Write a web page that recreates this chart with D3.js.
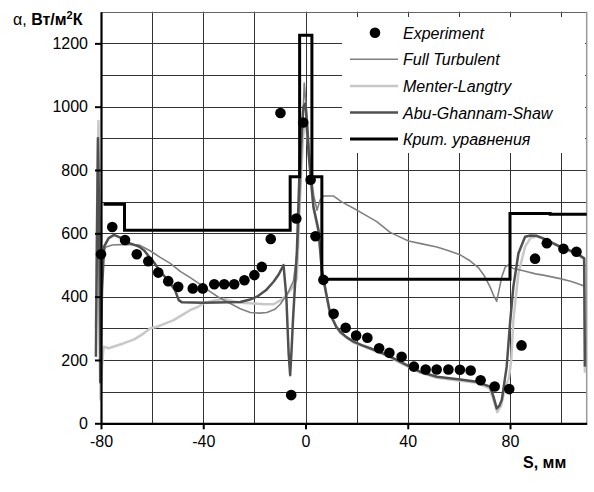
<!DOCTYPE html>
<html>
<head>
<meta charset="utf-8">
<script src="https://cdn.jsdelivr.net/npm/d3@7"></script>
<style>
  body { margin: 0; background: #fff; }
  text { font-family: "Liberation Sans", Arial, sans-serif; }
</style>
</head>
<body>
<script>
// data: [S, мм ; alpha, Вт/м2К]
const experiment = [
  [-80, 534], [-75.6, 620], [-70.6, 579], [-66, 534], [-61.5, 512], [-57.6, 476],
  [-53.7, 449], [-49.8, 431], [-44.1, 426], [-40.2, 426], [-35.7, 439], [-31.8, 439],
  [-27.9, 439], [-23.9, 452], [-20, 468], [-17.1, 494], [-13.6, 582], [-9.8, 980],
  [-5.6, 89], [-3.6, 647], [-0.9, 950], [2, 769], [3.9, 591], [7, 453], [11, 346],
  [15.7, 302], [19.8, 277], [24.2, 270], [28.8, 237], [32.8, 223], [37.6, 210],
  [42.4, 179], [47, 170], [51.3, 170], [55.9, 170], [60.4, 169], [64.6, 167],
  [68.5, 136], [74, 116], [79.7, 108], [84.5, 246], [89.8, 520], [94.4, 569],
  [100.9, 551], [106, 542]
];

const fullTurbulent = [
  [-80.6, 700], [-80.2, 350], [-79.5, 520], [-78.3, 556], [-75.6, 563], [-70, 565],
  [-65.1, 563], [-60.8, 545], [-57, 525], [-52.9, 505], [-49, 480], [-45.1, 460],
  [-41, 438], [-37.3, 416], [-34, 398], [-30.7, 384], [-25.5, 362], [-21.6, 350],
  [-18, 348], [-15.1, 350], [-12, 360], [-9.9, 376], [-7, 410], [-4.7, 450],
  [-3, 560], [-1.5, 850], [-0.5, 1075], [0.8, 950], [2, 800], [3.2, 720], [4.5, 673],
  [5.7, 705], [7, 718], [10.9, 718], [14, 700], [18.8, 679], [24, 655], [27.9, 637],
  [33.1, 603], [36, 592], [40.3, 576], [46, 566], [51.4, 557], [56, 545], [60.5, 532],
  [64, 515], [67.6, 492], [70, 465], [72.2, 431], [73.5, 405], [74.8, 385], [76.8, 463],
  [78.1, 493], [79.4, 500], [81, 490], [85.2, 482], [90, 472], [93, 468], [99.6, 457],
  [104, 448], [108, 437], [109.2, 432]
];

const menterLangtry = [
  [-82, 300], [-81.5, 700], [-81, 955], [-80.6, 600], [-80.2, 75], [-79.6, 180],
  [-79, 242], [-77, 237], [-74, 245], [-71, 253], [-67, 265], [-64, 280], [-60.7, 300],
  [-58, 305], [-55, 315], [-51.6, 326], [-47.7, 345], [-45, 358], [-42, 368],
  [-39.9, 379], [-36, 387], [-32, 393], [-28, 385], [-24, 380], [-20, 378], [-16, 376],
  [-12.5, 376], [-9, 392], [-7, 410], [-5, 430], [-3.4, 455], [-2.2, 700], [-1, 900],
  [-0.2, 960], [0.8, 900], [1.8, 800], [3.1, 680], [5.1, 600], [6.4, 480], [8.1, 405],
  [9.7, 340], [13.6, 285], [18.8, 255], [25.3, 234], [31.8, 213], [38.3, 186],
  [44.8, 160], [51.4, 144], [60.5, 134], [67, 128], [72, 110], [73.5, 75], [75, 35],
  [76.5, 55], [78, 110], [79.5, 140], [80.5, 200], [81.3, 326], [83.3, 474], [85.9, 558],
  [88, 585], [90.5, 590], [93, 583], [99.6, 556], [106.1, 535], [109, 519], [109.3, 160]
];

const abuGhannamShaw = [
  [-82, 210], [-81.6, 560], [-81.2, 900], [-80.7, 650], [-80.3, 130], [-79.6, 420],
  [-78.8, 558], [-77, 585], [-74.9, 595], [-72, 585], [-70.4, 573], [-67.5, 565],
  [-65.1, 558], [-63, 545], [-61.2, 526], [-59, 505], [-57.3, 484], [-55, 463],
  [-53.4, 447], [-51, 420], [-49.6, 389], [-48.3, 382], [-40, 381], [-30, 382],
  [-25.5, 383], [-22, 390], [-19, 400], [-15.5, 420], [-12.5, 447], [-10.5, 470],
  [-8.6, 500], [-7.5, 400], [-6.6, 221], [-6, 152], [-5.4, 240], [-4.9, 326],
  [-3.4, 537], [-2.1, 853], [-0.8, 1000], [0, 1010], [1.2, 853], [3.1, 684], [5.1, 610],
  [6.4, 484], [8.1, 410], [9.7, 345], [12, 305], [13.6, 289], [16, 272], [18.8, 258],
  [22, 247], [25.3, 237], [31.8, 216], [38.3, 189], [44.8, 163], [51.4, 147],
  [60.5, 138], [67, 131], [72.2, 116], [73.5, 85], [74.8, 47], [75.8, 55], [76.8, 74],
  [78.7, 179], [80, 316], [81.3, 431], [83.3, 537], [85.9, 589], [88, 593], [90.5, 592],
  [93, 584], [96, 572], [99.6, 558], [106.1, 537], [109, 521], [109.3, 179]
];

// step line, each value holds until the next S
const critEquations = [
  [-79, 692], [-70.8, 610], [-6, 779], [-2.3, 1226], [2.5, 779], [6.4, 455],
  [80, 663], [95.7, 660], [110, 660]
];

const xTicks = [-80, -40, 0, 40, 80];
const yTicks = [0, 200, 400, 600, 800, 1000, 1200];
const legendNames = ["Experiment", "Full Turbulent", "Menter-Langtry", "Abu-Ghannam-Shaw", "Крит. уравнения"];

const width = 594;
const height = 492;
const margin = { left: 101, top: 11.7, right: 7.3, bottom: 68.7 };

const svg = d3.select("body").append("svg")
  .attr("width", width)
  .attr("height", height);

const x = d3.scaleLinear().domain([-80, 110]).range([margin.left, width - margin.right]);
const y = d3.scaleLinear().domain([0, 1300]).range([height - margin.bottom, margin.top]);

// grid
const grid = svg.append("g").attr("stroke", "#333").attr("stroke-width", 1);
grid.selectAll(".gx")
  .data(d3.range(-60, 101, 20))
  .join("line")
  .attr("x1", (d) => Math.round(x(d)) + 0.5)
  .attr("x2", (d) => Math.round(x(d)) + 0.5)
  .attr("y1", y(1300))
  .attr("y2", y(0));
grid.selectAll(".gy")
  .data(d3.range(100, 1301, 100))
  .join("line")
  .attr("x1", x(-80))
  .attr("x2", x(110))
  .attr("y1", (d) => Math.round(y(d)) + 0.5)
  .attr("y2", (d) => Math.round(y(d)) + 0.5)
  .attr("stroke", (d) => (d === 1300 ? "#666" : null));
svg.append("line")
  .attr("x1", x(110)).attr("x2", x(110))
  .attr("y1", y(1300)).attr("y2", y(0))
  .attr("stroke", "#999").attr("stroke-width", 1.5);

// legend background hides the grid
svg.append("rect")
  .attr("x", 342).attr("y", 17)
  .attr("width", 243).attr("height", 136)
  .attr("fill", "#fff");

const line = d3.line().x((d) => x(d[0])).y((d) => y(d[1]));

const series = [
  { data: menterLangtry, color: "#c8c8c8", w: 2.5 },
  { data: fullTurbulent, color: "#808080", w: 1.6 },
  { data: abuGhannamShaw, color: "#505050", w: 2.5 },
];
series.forEach((s) => {
  svg.append("path")
    .datum(s.data)
    .attr("fill", "none")
    .attr("stroke", s.color)
    .attr("stroke-width", s.w)
    .attr("stroke-linejoin", "round")
    .attr("d", line);
});

svg.append("path")
  .datum(critEquations)
  .attr("fill", "none")
  .attr("stroke", "#000")
  .attr("stroke-width", 3)
  .attr("d", line.curve(d3.curveStepAfter));

svg.selectAll(".dot")
  .data(experiment)
  .join("circle")
  .attr("cx", (d) => x(d[0]))
  .attr("cy", (d) => y(d[1]))
  .attr("r", 5.3)
  .attr("fill", "#000");

// axes
const plain = (d) => String(d);
const yAxis = svg.append("g")
  .attr("transform", "translate(" + margin.left + ",0)")
  .call(d3.axisLeft(y).tickValues(yTicks).tickFormat(plain).tickSize(6).tickSizeOuter(0).tickPadding(7));
const xAxis = svg.append("g")
  .attr("transform", "translate(0," + y(0) + ")")
  .call(d3.axisBottom(x).tickValues(xTicks).tickFormat(plain).tickSize(6).tickSizeOuter(0).tickPadding(6));

[xAxis, yAxis].forEach((g) => {
  g.select(".domain").attr("stroke", "#000").attr("stroke-width", 2.2);
  g.selectAll(".tick line").attr("stroke", "#000").attr("stroke-width", 2);
  g.selectAll(".tick text")
    .attr("fill", "#000")
    .style("font-size", "16px")
    .style("font-family", "'Liberation Sans', Arial, sans-serif");
});

// axis titles
const yTitle = svg.append("text")
  .attr("x", 13).attr("y", 25)
  .style("font-size", "16px");
yTitle.append("tspan").text("α, ");
yTitle.append("tspan").attr("font-weight", "bold").text("Вт/м");
yTitle.append("tspan").attr("font-weight", "bold").attr("dy", -6).style("font-size", "11px").text("2");
yTitle.append("tspan").attr("font-weight", "bold").attr("dy", 6).text("К");

svg.append("text")
  .attr("x", 523).attr("y", 468)
  .attr("font-weight", "bold")
  .style("font-size", "16px")
  .text("S, мм");

// legend
const legend = svg.append("g");
const rowY = (i) => 32.7 + i * 26.6;
legend.append("circle").attr("cx", 375).attr("cy", rowY(0)).attr("r", 5.3).attr("fill", "#000");
const legendStyles = [
  null,
  { color: "#808080", w: 1.6 },
  { color: "#c8c8c8", w: 2.5 },
  { color: "#505050", w: 2.5 },
  { color: "#000", w: 3 },
];
legendStyles.forEach((s, i) => {
  if (!s) return;
  legend.append("line")
    .attr("x1", 350).attr("x2", 398)
    .attr("y1", rowY(i)).attr("y2", rowY(i))
    .attr("stroke", s.color).attr("stroke-width", s.w);
});
legend.selectAll("text")
  .data(legendNames)
  .join("text")
  .attr("x", 403)
  .attr("y", (d, i) => rowY(i) + 6)
  .attr("font-style", "italic")
  .style("font-size", "16px")
  .text((d) => d);
</script>
</body>
</html>
